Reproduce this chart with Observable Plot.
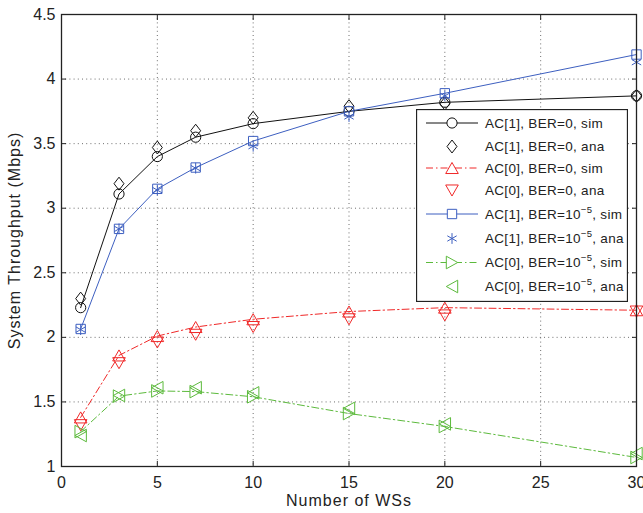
<!DOCTYPE html>
<html><head><meta charset="utf-8">
<script src="https://cdn.jsdelivr.net/npm/d3@7"></script>
<script src="https://cdn.jsdelivr.net/npm/@observablehq/plot@0.6"></script>
<style>
body{margin:0;background:#fff;}
#wrap{position:relative;width:643px;height:513px;font-family:"Liberation Sans",Arial,Helvetica,sans-serif;}
#legend{position:absolute;left:416px;top:109px;}
</style></head><body><div id="wrap"></div>
<script>
// ---- data ----
const xs = [1, 3, 5, 7, 10, 15, 20, 30];
const ac1Ber0Sim = [2.23, 3.11, 3.40, 3.55, 3.655, 3.75, 3.82, 3.87];
const ac1Ber0Ana = [2.30, 3.19, 3.47, 3.60, 3.70, 3.79, 3.81, 3.87];
const ac0Ber0Sim = [1.38, 1.86, 2.01, 2.08, 2.14, 2.20, 2.23, 2.21];
const ac0Ber0Ana = [1.32, 1.80, 1.96, 2.02, 2.08, 2.14, 2.17, 2.20];
const ac1Ber5Sim = [2.065, 2.84, 3.15, 3.315, 3.52, 3.75, 3.89, 4.19];
const ac1Ber5Ana = [2.06, 2.84, 3.14, 3.31, 3.48, 3.71, 3.87, 4.13];
const ac0Ber5Sim = [1.27, 1.545, 1.585, 1.58, 1.54, 1.41, 1.31, 1.07];
const ac0Ber5Ana = [1.24, 1.55, 1.61, 1.61, 1.57, 1.45, 1.33, 1.10];
const xTicks = [0, 5, 10, 15, 20, 25, 30];
const xTickLabels = ["0", "5", "10", "15", "20", "25", "30"];
const yTicks = [1, 1.5, 2, 2.5, 3, 3.5, 4, 4.5];
const yTickLabels = ["1", "1.5", "2", "2.5", "3", "3.5", "4", "4.5"];
const xLabel = "Number of WSs";
const yLabel = "System Throughput (Mbps)";

// ---- symbols (MATLAB-like) ----
const rad = size => Math.sqrt(size / Math.PI);
const symbols = {
  circle: {draw(c, size){const r = rad(size)*0.85; c.moveTo(r,0); c.arc(0,0,r,0,2*Math.PI);}},
  diamond: {draw(c, size){const r = rad(size), w = r*0.83, h = r*1.08; c.moveTo(0,-h); c.lineTo(w,0); c.lineTo(0,h); c.lineTo(-w,0); c.closePath();}},
  triUp: {draw(c, size){const r = rad(size), w = r*1.05, h = r*0.92; c.moveTo(0,-h); c.lineTo(w,h); c.lineTo(-w,h); c.closePath();}},
  triDown: {draw(c, size){const r = rad(size), w = r*1.05, h = r*0.92; c.moveTo(0,h); c.lineTo(w,-h); c.lineTo(-w,-h); c.closePath();}},
  square: {draw(c, size){const r = rad(size)*0.78; c.moveTo(-r,-r); c.lineTo(r,-r); c.lineTo(r,r); c.lineTo(-r,r); c.closePath();}},
  asterisk: {draw(c, size){const r = rad(size)*0.9; c.moveTo(0,-r); c.lineTo(0,r);
    const a = r*0.87, b = r*0.5; c.moveTo(-a,-b); c.lineTo(a,b); c.moveTo(-a,b); c.lineTo(a,-b);}},
  triRight: {draw(c, size){const r = rad(size), w = r*0.95, h = r*1.05; c.moveTo(w,0); c.lineTo(-w,-h); c.lineTo(-w,h); c.closePath();}},
  triLeft: {draw(c, size){const r = rad(size), w = r*0.95, h = r*1.05; c.moveTo(-w,0); c.lineTo(w,-h); c.lineTo(w,h); c.closePath();}}
};

const colors = {black: "#111111", red: "#f02828", blue: "#3d5fc0", green: "#5cba3c"};
const dashDot = "7,3,1.5,3";

const series = [
  {ac: "1", ber: "0", kind: "sim", values: ac1Ber0Sim, color: colors.black, symbol: symbols.circle, line: true, dash: null},
  {ac: "1", ber: "0", kind: "ana", values: ac1Ber0Ana, color: colors.black, symbol: symbols.diamond, line: false},
  {ac: "0", ber: "0", kind: "sim", values: ac0Ber0Sim, color: colors.red, symbol: symbols.triUp, line: true, dash: dashDot},
  {ac: "0", ber: "0", kind: "ana", values: ac0Ber0Ana, color: colors.red, symbol: symbols.triDown, line: false},
  {ac: "1", ber: "5", kind: "sim", values: ac1Ber5Sim, color: colors.blue, symbol: symbols.square, line: true, dash: null},
  {ac: "1", ber: "5", kind: "ana", values: ac1Ber5Ana, color: colors.blue, symbol: symbols.asterisk, line: false},
  {ac: "0", ber: "5", kind: "sim", values: ac0Ber5Sim, color: colors.green, symbol: symbols.triRight, line: true, dash: dashDot},
  {ac: "0", ber: "5", kind: "ana", values: ac0Ber5Ana, color: colors.green, symbol: symbols.triLeft, line: false}
];
series.forEach(s => s.rows = s.values.map((v, i) => ({x: xs[i], y: v})));

const W = 643, H = 513, mL = 61, mR = 7, mT = 14, mB = 47;
const tick = 5;
const fontFamily = '"Liberation Sans", Arial, Helvetica, sans-serif';
const blank = () => "";

const marks = [
  Plot.gridX(xTicks, {stroke: "#555", strokeOpacity: 0.85, strokeDasharray: "1,3.2"}),
  Plot.gridY(yTicks, {stroke: "#555", strokeOpacity: 0.85, strokeDasharray: "1,3.2"}),
  // inward ticks on all four sides
  Plot.axisX({anchor: "bottom", ticks: xTicks, tickSize: tick, dy: -tick, tickFormat: blank, label: null, stroke: "#222"}),
  Plot.axisX({anchor: "top", ticks: xTicks, tickSize: tick, dy: tick, tickFormat: blank, label: null, stroke: "#222"}),
  Plot.axisY({anchor: "left", ticks: yTicks, tickSize: tick, dx: tick, tickFormat: blank, label: null, stroke: "#222"}),
  Plot.axisY({anchor: "right", ticks: yTicks, tickSize: tick, dx: -tick, tickFormat: blank, label: null, stroke: "#222"}),
  // tick labels
  Plot.axisX({anchor: "bottom", ticks: xTicks, tickSize: 0, tickPadding: 10, label: null, tickFormat: d => xTickLabels[xTicks.indexOf(d)], fontSize: 16, fill: "#222"}),
  Plot.axisY({anchor: "left", ticks: yTicks, tickSize: 0, tickPadding: 6, label: null, tickFormat: d => yTickLabels[yTicks.indexOf(d)], fontSize: 16, fill: "#222"}),
  Plot.text([xLabel], {text: d => d, frameAnchor: "bottom", dy: 34, lineAnchor: "middle", textAnchor: "middle", fontSize: 16, fill: "#222", className: "axis-title"}),
  Plot.text([yLabel], {text: d => d, frameAnchor: "left", dx: -47, rotate: -90, lineAnchor: "middle", textAnchor: "middle", fontSize: 16, fill: "#222", className: "axis-title"})
];
for (const s of series) {
  if (s.line) marks.push(Plot.line(s.rows, {x: "x", y: "y", stroke: s.color, strokeWidth: 1, strokeDasharray: s.dash}));
}
for (const s of series) {
  marks.push(Plot.dot(s.rows, {x: "x", y: "y", r: 6, symbol: () => s.symbol, stroke: s.color, fill: "none", strokeWidth: 1}));
}
marks.push(Plot.frame({stroke: "#222", strokeWidth: 1.3}));

const chart = Plot.plot({
  width: W, height: H,
  marginLeft: mL, marginRight: mR, marginTop: mT, marginBottom: mB,
  style: {fontFamily, background: "#fff", overflow: "visible"},
  x: {domain: [0, 30]},
  y: {domain: [1, 4.5]},
  symbol: {type: "identity"},
  marks
});
d3.select(chart).selectAll(".axis-title text").attr("letter-spacing", "1px");
document.getElementById("wrap").appendChild(chart);

// ---- legend ----
const legW = 212, legH = 193;
const rowY = [14, 37.5, 59, 81.5, 105, 129.5, 153.5, 177.5];
const leg = d3.select("#wrap").append("svg").attr("id", "legend")
  .attr("width", legW).attr("height", legH);
leg.append("rect").attr("x", 0.5).attr("y", 0.5).attr("width", legW - 1).attr("height", legH - 1)
  .attr("fill", "#fff").attr("stroke", "#222").attr("stroke-width", 1.3);
series.forEach((s, i) => {
  const g = leg.append("g").attr("transform", `translate(0,${rowY[i]})`);
  if (s.line) g.append("line").attr("x1", 10).attr("x2", 62).attr("stroke", s.color)
    .attr("stroke-width", 1).attr("stroke-dasharray", s.dash);
  g.append("path").attr("transform", "translate(36,0)")
    .attr("d", d3.symbol().type(s.symbol).size(36 * Math.PI)())
    .attr("fill", s.line ? "#fff" : "none").attr("stroke", s.color);
  const t = g.append("text").attr("x", 69).attr("dy", "0.36em")
    .attr("font-size", 13.5).attr("letter-spacing", "0.3px")
    .attr("font-family", fontFamily).attr("fill", "#222");
  if (s.ber === "0") {
    t.text(`AC[${s.ac}], BER=0, ${s.kind}`);
  } else {
    t.append("tspan").text(`AC[${s.ac}], BER=10`);
    t.append("tspan").attr("dy", -6).attr("font-size", 9.5).text("\u22125");
    t.append("tspan").attr("dy", 6).text(`, ${s.kind}`);
  }
});
</script></body></html>
